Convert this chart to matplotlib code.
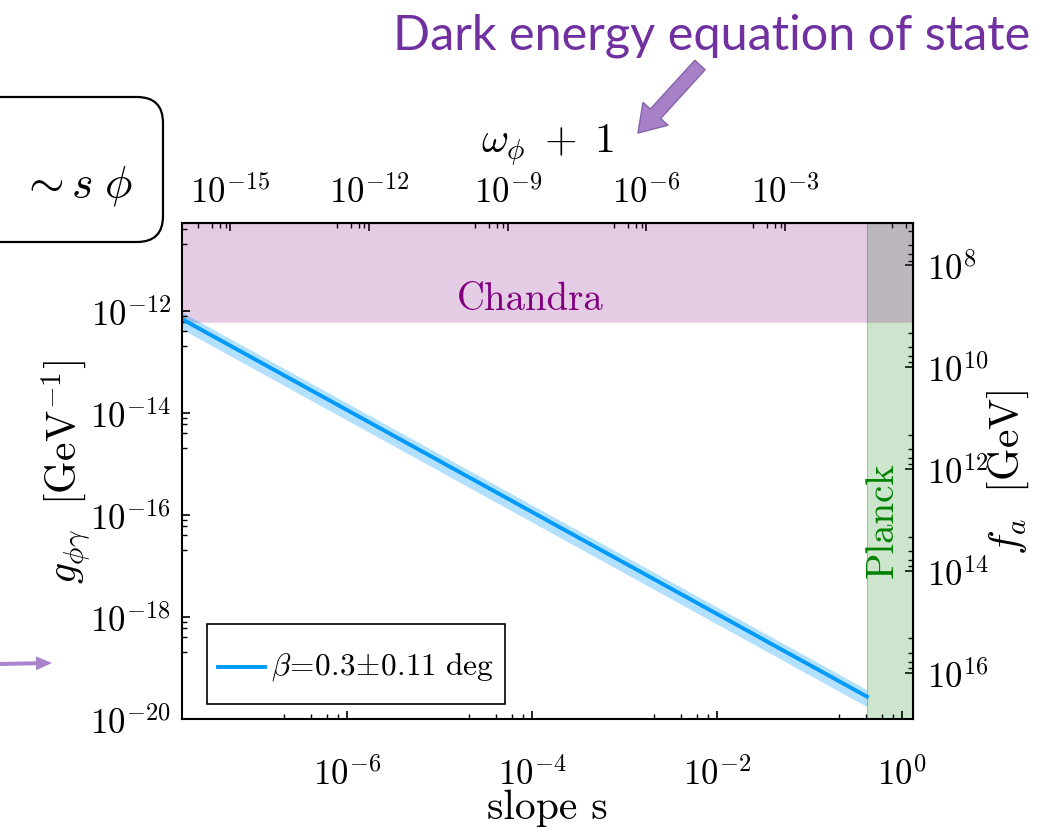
import numpy as np
import matplotlib
matplotlib.use("Agg")
import matplotlib.pyplot as plt
from matplotlib.ticker import FixedLocator, FixedFormatter, NullFormatter
from matplotlib.patches import FancyBboxPatch, FancyArrow
from matplotlib.transforms import IdentityTransform, Affine2D

plt.rcParams['mathtext.fontset'] = 'cm'
plt.rcParams['font.family'] = ['cmr10', 'DejaVu Serif']
plt.rcParams['axes.unicode_minus'] = False

# ---- data -------------------------------------------------------------
s_line = [1.65e-8, 0.42]            # slope s at the ends of the prediction
g_line = [7.0e-13, 2.75e-20]        # g_{phi gamma} [GeV^-1] for beta = 0.3 deg
beta, dbeta = 0.3, 0.11             # birefringence angle [deg]
g_chandra = 6e-13                   # Chandra upper bound on g
s_planck = 0.42                     # Planck bound on the slope
C_fa = 7.9e-4                       # f_a = C_fa / g
w_norm = 3.0                        # omega_phi + 1 = s^2 / w_norm

s_lim = (1.65e-8, 1.32)
g_lim = (1e-20, 5.37e-11)

s_major = [1e-8, 1e-6, 1e-4, 1e-2, 1e0, 1e2]
s_labels = ["", r"$10^{-6}$", r"$10^{-4}$", r"$10^{-2}$", r"$10^{0}$", ""]
g_major = [1e-20, 1e-18, 1e-16, 1e-14, 1e-12, 1e-10]
g_labels = [r"$10^{-20}$", r"$10^{-18}$", r"$10^{-16}$", r"$10^{-14}$", r"$10^{-12}$", ""]
w_major = [1e-18, 1e-15, 1e-12, 1e-9, 1e-6, 1e-3, 1e0]
w_labels = ["", r"$10^{-15}$", r"$10^{-12}$", r"$10^{-9}$", r"$10^{-6}$", r"$10^{-3}$", ""]
f_major = [1e6, 1e8, 1e10, 1e12, 1e14, 1e16, 1e18]
f_labels = ["", r"$10^{8}$", r"$10^{10}$", r"$10^{12}$", r"$10^{14}$", r"$10^{16}$", ""]

LINE_C = "#009AFA"


def linear_minors(majors):
    out = []
    for a, b in zip(majors[:-1], majors[1:]):
        out += [a + k * (b - a) / 5 for k in range(1, 5)]
    return out


def style_axis(axis, majors, labels):
    axis.set_major_locator(FixedLocator(majors))
    axis.set_major_formatter(FixedFormatter(labels))
    axis.set_minor_locator(FixedLocator(linear_minors(majors)))
    axis.set_minor_formatter(NullFormatter())


W, H = 1038, 829
fig = plt.figure(figsize=(W / 100, H / 100), dpi=100)
ax = fig.add_axes([182 / W, 1 - 720 / H, (913 - 182) / W, (720 - 224) / H])
ax.set_xscale('log')
ax.set_yscale('log')
ax.set_xlim(*s_lim)
ax.set_ylim(*g_lim)

# excluded regions
ax.axvspan(s_planck, s_lim[1], color='green', alpha=0.2, lw=0)
ax.axvline(s_planck, color='green', alpha=0.25, lw=0.8)
ax.axhspan(g_chandra, g_lim[1], color='purple', alpha=0.2, lw=0)
ax.axhline(g_chandra, color='purple', alpha=0.15, lw=0.8)

# prediction band and central line
g_lo = [g * (beta - dbeta) / beta for g in g_line]
g_hi = [g * (beta + dbeta) / beta for g in g_line]
ax.fill_between(s_line, g_lo, g_hi, color=LINE_C, alpha=0.3, lw=0)
ax.plot(s_line, g_line, color=LINE_C, lw=2.8,
        label=r"$\beta\!=\!0.3\!\pm\!0.11\ \mathrm{deg}$")

ax.text(9.5e-5, 1.75e-12, "Chandra", color='purple', fontsize=28,
        ha='center', va='center')
ax.text(0.63, 8.5e-17, "Planck", color='green', fontsize=28,
        ha='center', va='center', rotation=90)

leg = ax.legend(loc='lower left', bbox_to_anchor=(0.034, 0.03), fontsize=22.5,
                frameon=True, fancybox=False, framealpha=1, edgecolor='black',
                handlelength=1.5, handleheight=2.5, handletextpad=0.2,
                borderpad=0.35, borderaxespad=0)
leg.get_frame().set_linewidth(1.2)
# centre the legend line on the label text
for hl in leg.get_lines():
    hl.set_transform(hl.get_transform() + Affine2D().translate(0, -13))

style_axis(ax.xaxis, s_major, s_labels)
style_axis(ax.yaxis, g_major, g_labels)
ax.tick_params(which='both', direction='in', labelsize=25, top=False, right=False)
ax.tick_params(which='major', length=6, width=1.2)
ax.tick_params(which='minor', length=3.5, width=1.0)
ax.tick_params(axis='x', pad=27)
ax.tick_params(axis='y', pad=8)
for sp in ax.spines.values():
    sp.set_linewidth(1.5)

ax.set_xlabel("slope s", fontsize=30, labelpad=-2)
ax.set_ylabel(r"$g_{\phi\gamma}\ \ [\mathrm{GeV}^{-1}]$", fontsize=30, labelpad=-2)

# top axis: equation of state
top = ax.secondary_xaxis('top', functions=(lambda s: s ** 2 / w_norm,
                                           lambda w: np.sqrt(np.abs(w) * w_norm)))
style_axis(top.xaxis, w_major, w_labels)
top.tick_params(which='both', direction='in', labelsize=25)
top.tick_params(which='major', length=6, width=1.2, pad=10)
top.tick_params(which='minor', length=3.5, width=1.0)
top.set_xlabel(r"$\omega_{\phi}\;+\;1$", fontsize=30, labelpad=16)

# right axis: decay constant
right = ax.secondary_yaxis('right', functions=(lambda g: C_fa / g,
                                               lambda f: C_fa / f))
style_axis(right.yaxis, f_major, f_labels)
right.tick_params(which='both', direction='in', labelsize=25)
right.tick_params(which='major', length=6, width=1.2, pad=10)
right.tick_params(which='minor', length=3.5, width=1.0)
right.set_ylabel(r"$f_a\ \ [\mathrm{GeV}]$", fontsize=30, labelpad=-2)

# slide annotations
ident = IdentityTransform()
fig.text(1030 / W, 1 - 36 / H, "Dark energy equation of state", family='Lato',
         color='#7030A0', fontsize=35, ha='right', va='center')
fig.patches.append(FancyArrow(700, H - 66, -62, -68, width=14, head_width=34,
                              head_length=26, length_includes_head=True,
                              facecolor='#A880C8', edgecolor='#8464AC', lw=1,
                              transform=ident, figure=fig))
fig.patches.append(FancyArrow(-2, H - 665, 54, 1, width=4, head_width=14,
                              head_length=16, length_includes_head=True,
                              facecolor='#A984CC', edgecolor='none',
                              transform=ident, figure=fig))
fig.patches.append(FancyBboxPatch((-40, H - 243), 203, 145,
                                  boxstyle="round,pad=0,rounding_size=26",
                                  facecolor='white', edgecolor='black', lw=1.6,
                                  transform=ident, figure=fig))
fig.text(76 / W, 1 - 186 / H, r"$\sim s\;\phi$", fontsize=33,
         ha='center', va='center')

fig.savefig("out.png", dpi=100)
